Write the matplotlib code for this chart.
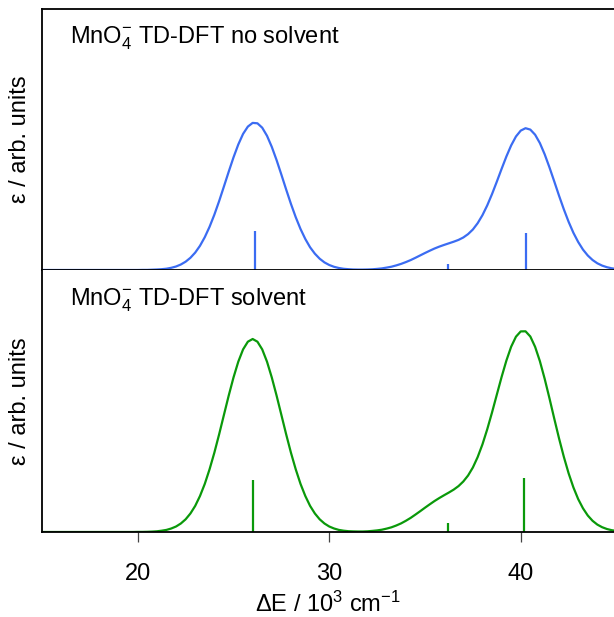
import numpy as np
import matplotlib
matplotlib.use("Agg")
import matplotlib.pyplot as plt

plt.rcParams['font.family'] = ['Liberation Sans', 'DejaVu Sans']
plt.rcParams['mathtext.fontset'] = 'custom'
plt.rcParams['mathtext.rm'] = 'Liberation Sans'
plt.rcParams['mathtext.it'] = 'Liberation Sans:italic'

# energy grid in 10^3 cm^-1 (15 .. 45, every 0.25)
energy = np.arange(15.0, 45.001, 0.25)

# broadened spectra, eps in arb. units; zero below 20
eps_gas = [0.0] * 20 + [
    0.0, 0.1, 0.1, 0.3,
    0.5, 0.8, 1.3, 2.2,
    3.5, 5.5, 8.3, 12.2,
    17.4, 24.2, 32.8, 43.2,
    55.3, 68.9, 83.5, 98.3,
    112.6, 125.5, 136.1, 143.4,
    147.1, 146.7, 142.3, 134.2,
    123.1, 109.9, 95.4, 80.5,
    66.1, 52.8, 41.0, 31.0,
    22.7, 16.3, 11.3, 7.6,
    5.0, 3.2, 2.0, 1.2,
    0.8, 0.5, 0.4, 0.4,
    0.5, 0.7, 1.1, 1.6,
    2.4, 3.3, 4.6, 6.1,
    7.9, 9.9, 12.2, 14.6,
    17.0, 19.3, 21.5, 23.4,
    25.1, 26.7, 28.3, 30.1,
    32.5, 35.9, 40.5, 46.8,
    54.8, 64.6, 75.9, 88.3,
    101.1, 113.5, 124.6, 133.5,
    139.4, 141.8, 140.4, 135.3,
    126.9, 115.7, 102.6, 88.6,
    74.3, 60.7, 48.2, 37.2,
    28.0, 20.4, 14.5, 10.0,
    6.7, 4.4, 2.8, 1.7,
    1.0]

eps_solv = [0.0] * 20 + [
    0.1, 0.1, 0.2, 0.4,
    0.7, 1.3, 2.1, 3.5,
    5.5, 8.5, 12.7, 18.5,
    26.1, 36.0, 48.1, 62.7,
    79.3, 97.7, 117.1, 136.4,
    154.5, 170.3, 182.6, 190.3,
    193.0, 190.3, 182.6, 170.3,
    154.5, 136.4, 117.1, 97.7,
    79.3, 62.7, 48.1, 36.0,
    26.1, 18.5, 12.7, 8.5,
    5.5, 3.5, 2.1, 1.3,
    0.8, 0.6, 0.5, 0.5,
    0.7, 1.1, 1.6, 2.3,
    3.4, 4.7, 6.5, 8.6,
    11.2, 14.1, 17.4, 20.8,
    24.3, 27.7, 31.0, 34.0,
    36.8, 39.5, 42.4, 45.9,
    50.5, 56.5, 64.5, 74.9,
    87.6, 102.7, 119.5, 137.3,
    155.0, 171.4, 185.3, 195.3,
    200.6, 200.7, 195.5, 185.2,
    170.8, 153.2, 133.7, 113.4,
    93.6, 75.2, 58.7, 44.6,
    32.9, 23.7, 16.5, 11.2,
    7.4, 4.8, 3.0, 1.8,
    1.1]

# stick spectra (transition energies and intensities)
sticks_gas_x = [26.1, 36.2, 40.3]
sticks_gas_f = [39.0, 5.7, 37.3]
sticks_solv_x = [26.0, 36.2, 40.15]
sticks_solv_f = [52.0, 9.3, 54.0]

xticks = [20, 30, 40]

blue = '#3b6cf2'
green = '#0a990a'
fs = 17

fig = plt.figure(figsize=(6.14, 6.17), dpi=100)
ax1 = fig.add_axes([42/614, 1 - 270/617, 1 - 42/614, 261/617])
ax2 = fig.add_axes([42/614, 1 - 532/617, 1 - 42/614, 262/617])

ax1.plot(energy, eps_gas, color=blue, lw=1.6)
ax1.vlines(sticks_gas_x, 0, sticks_gas_f, color=blue, lw=1.6)
ax2.plot(energy, eps_solv, color=green, lw=1.6)
ax2.vlines(sticks_solv_x, 0, sticks_solv_f, color=green, lw=1.6)

for ax in (ax1, ax2):
    ax.set_xlim(15, 44.87)
    ax.set_yticks([])
    ax.spines['right'].set_visible(False)
    for s in ax.spines.values():
        s.set_linewidth(1.3)
    ax.set_ylabel('ε / arb. units', fontsize=fs, labelpad=8)

ax1.set_ylim(0, 261)
ax2.set_ylim(0, 262)
ax1.set_xticks([])
ax2.spines['top'].set_visible(False)
ax2.set_xticks(xticks)
ax2.tick_params(axis='x', direction='out', length=7, width=0.9, color='#444444',
                labelsize=fs, pad=15)
ax2.set_xlabel('ΔE / 10$^3$ cm$^{-1}$', fontsize=fs)
ax2.xaxis.set_label_coords(0.5, -0.229)

ax1.text(0.049, 0.889, 'MnO$_4^{-}$ TD-DFT no solvent', transform=ax1.transAxes,
         fontsize=fs, va='center', ha='left')
ax2.text(0.049, 0.885, 'MnO$_4^{-}$ TD-DFT solvent', transform=ax2.transAxes,
         fontsize=fs, va='center', ha='left')

fig.savefig('out.png', dpi=100)
